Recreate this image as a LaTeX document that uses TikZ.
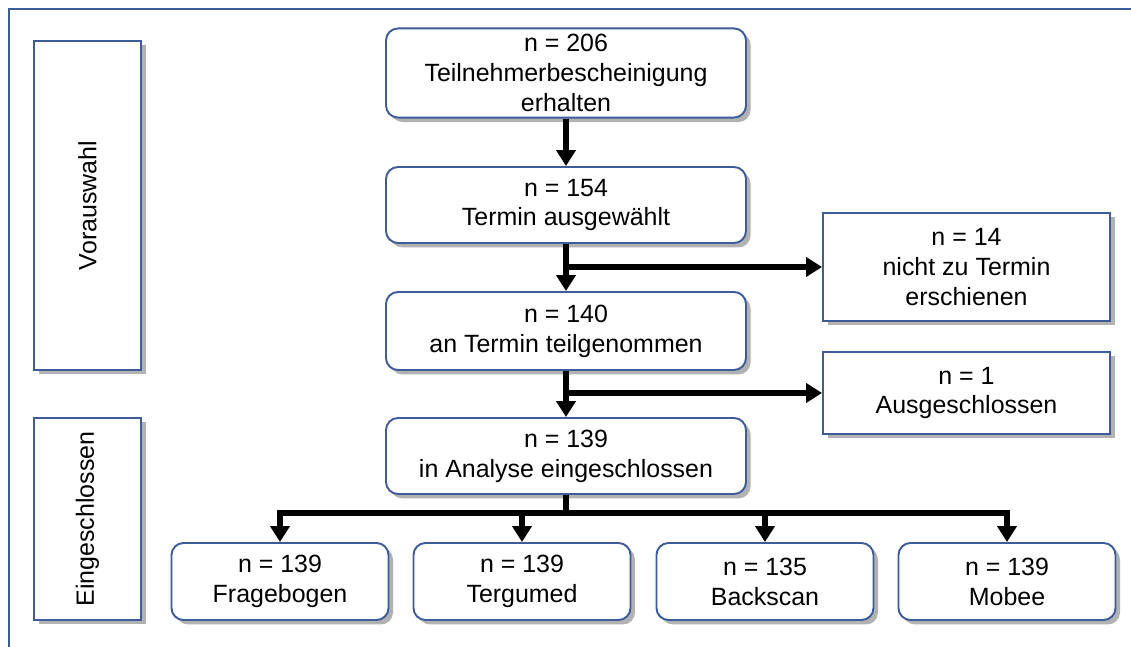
\documentclass[tikz,border=0pt]{standalone}
\usepackage{fontspec}
\setmainfont{Liberation Sans}
\usetikzlibrary{arrows.meta,positioning,shadows}
\definecolor{boxblue}{HTML}{3D5C9C}
\tikzset{
  every node/.style={font=\fontsize{14.2}{17}\selectfont, align=center},
  rbox/.style={draw=boxblue, line width=1.1pt, rounded corners=0.24cm, fill=white, drop shadow={shadow xshift=0.09cm, shadow yshift=-0.09cm, fill=black, opacity=0.3}},
  sbox/.style={draw=boxblue, line width=1.1pt, fill=white, drop shadow={shadow xshift=0.09cm, shadow yshift=-0.09cm, fill=black, opacity=0.3}},
  flow/.style={line width=3.3pt, -{Triangle[width=0.38cm,length=0.32cm]}},
  bus/.style={line width=3.3pt}
}
\begin{document}
\begin{tikzpicture}[y=-1cm]
\useasboundingbox (0,0) rectangle (22.62,12.94);
\fill[white] (0,0) rectangle (22.62,12.94);
\draw[boxblue, line width=1.4pt] (0.18,0.18) rectangle (23.5,13.5);
\node (vor) at (1.75,4.11) [sbox, rotate=90, minimum width=6.58cm, minimum height=2.14cm] {Vorauswahl};
\node (ein) at (1.75,10.38) [sbox, rotate=90, minimum width=4.04cm, minimum height=2.14cm] {Eingeschlossen};
\node (n206) at (11.32,1.46) [rbox, minimum width=7.2cm, minimum height=1.76cm] {n = 206\\Teilnehmerbescheinigung\\erhalten};
\node (n154) at (11.32,4.1) [rbox, minimum width=7.2cm, minimum height=1.52cm] {n = 154\\Termin ausgewählt};
\node (n140) at (11.32,6.62) [rbox, minimum width=7.2cm, minimum height=1.56cm] {n = 140\\an Termin teilgenommen};
\node (n139) at (11.32,9.12) [rbox, minimum width=7.2cm, minimum height=1.52cm] {n = 139\\in Analyse eingeschlossen};
\node (out14) at (19.33,5.34) [sbox, minimum width=5.74cm, minimum height=2.16cm] {n = 14\\nicht zu Termin\\erschienen};
\node (out1) at (19.33,7.86) [sbox, minimum width=5.74cm, minimum height=1.64cm] {n = 1\\Ausgeschlossen};
\node (frage) at (5.6,11.63) [rbox, minimum width=4.34cm, minimum height=1.54cm] {n = 139\\Fragebogen};
\node (tergu) at (10.44,11.63) [rbox, minimum width=4.34cm, minimum height=1.54cm] {n = 139\\Tergumed};
\node (back) at (15.3,11.63) [rbox, minimum width=4.34cm, minimum height=1.54cm] {n = 135\\Backscan};
\node (mobee) at (20.14,11.63) [rbox, minimum width=4.34cm, minimum height=1.54cm] {n = 139\\Mobee};
\coordinate (split) at (11.32,10.26);
\draw [flow] (n206.south) -- (n154.north);
\draw [flow] (n154.south) -- (n140.north);
\draw [flow] (n154.south |- out14.west) -- (out14.west);
\draw [flow] (n140.south) -- (n139.north);
\draw [flow] (n140.south |- out1.west) -- (out1.west);
\draw [bus] (n139.south) -- (split);
\draw [flow] (split) -| (frage.north);
\draw [flow] (split -| tergu.north) -- (tergu.north);
\draw [flow] (split -| back.north) -- (back.north);
\draw [flow] (split) -| (mobee.north);
\end{tikzpicture}
\end{document}
